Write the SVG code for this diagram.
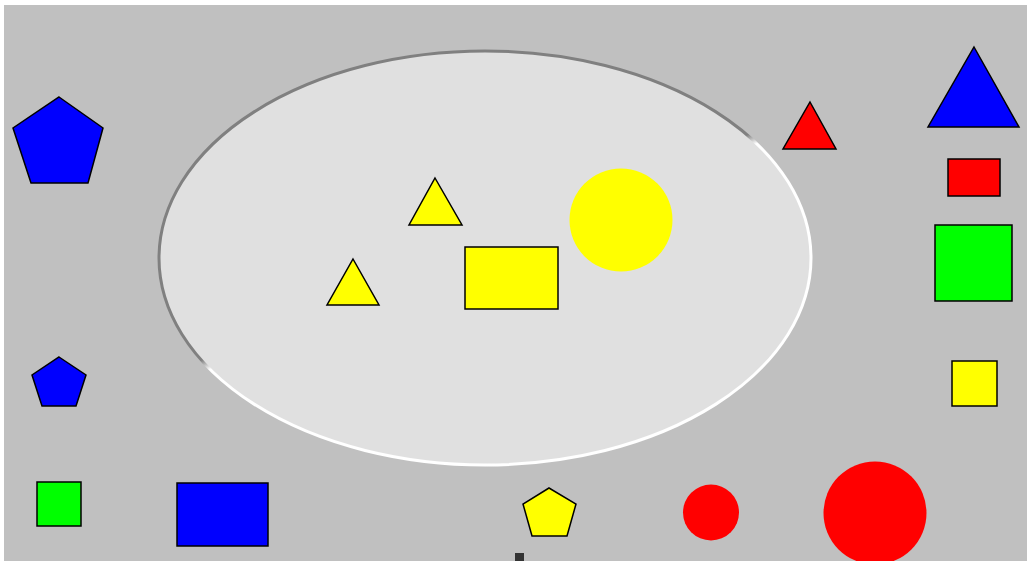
<svg xmlns="http://www.w3.org/2000/svg" width="1027" height="561" viewBox="0 0 1027 561">
<style>
.s{stroke:#000;stroke-width:1.5;stroke-linejoin:miter}
.blue{fill:#0000FF}.red{fill:#FF0000}.yellow{fill:#FFFF00}.green{fill:#00FF00}
</style>
<defs>
<linearGradient id="bevel" gradientUnits="userSpaceOnUse" x1="455" y1="198" x2="500" y2="307">
<stop offset="0" stop-color="#808080"/>
<stop offset="0.45" stop-color="#808080"/>
<stop offset="0.55" stop-color="#FFFFFF"/>
<stop offset="1" stop-color="#FFFFFF"/>
</linearGradient>
</defs>
<rect x="0" y="0" width="1027" height="561" fill="#FFFFFF"/>
<rect x="4" y="5" width="1023" height="556" fill="#C0C0C0"/>
<g id="region">
<ellipse cx="485" cy="258" rx="326" ry="207" fill="#E0E0E0" stroke="url(#bevel)" stroke-width="3"/>
</g>
<g id="pentagon-blue-large"><polygon class="s blue" points="59,97 103,128 88,183 31,183 13,128"/></g>
<g id="pentagon-blue-small"><polygon class="s blue" points="59,357 86,375 76,406 42,406 32,375"/></g>
<g id="square-green-small"><rect class="s green" x="37" y="482" width="44" height="44"/></g>
<g id="rect-blue"><rect class="s blue" x="177" y="483" width="91" height="63"/></g>
<g id="pentagon-yellow"><polygon class="s yellow" points="549,488 576,504 567,536 532,536 523,504"/></g>
<g id="marker-dark"><rect x="515" y="553" width="9" height="8" fill="#333333"/></g>
<g id="circle-red-small"><circle class="red" cx="711" cy="512.5" r="28"/></g>
<g id="circle-red-large"><circle class="red" cx="875" cy="513" r="51.5"/></g>
<g id="circle-yellow"><circle class="yellow" cx="621" cy="220" r="51.5"/></g>
<g id="triangle-red"><polygon class="s red" points="810,102 836,149 783,149"/></g>
<g id="triangle-blue"><polygon class="s blue" points="974,47 1019,127 928,127"/></g>
<g id="rect-red"><rect class="s red" x="948" y="159" width="52" height="37"/></g>
<g id="square-green-large"><rect class="s green" x="935" y="225" width="77" height="76"/></g>
<g id="square-yellow"><rect class="s yellow" x="952" y="361" width="45" height="45"/></g>
<g id="triangle-yellow-upper"><polygon class="s yellow" points="435,178 462,225 409,225"/></g>
<g id="triangle-yellow-lower"><polygon class="s yellow" points="353,259 379,305 327,305"/></g>
<g id="rect-yellow"><rect class="s yellow" x="465" y="247" width="93" height="62"/></g>
<g id="connectors"/>
</svg>
